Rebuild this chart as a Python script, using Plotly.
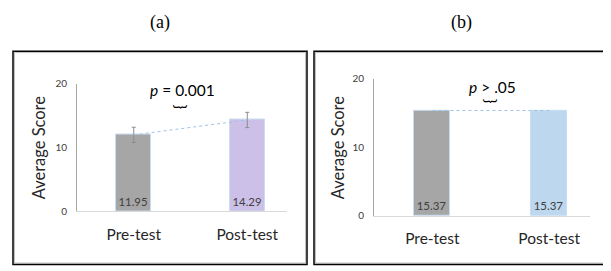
import plotly.graph_objects as go

W, H = 611, 271
OFF = 8  # default page body margin in the browser

categories = ["Pre-test", "Post-test"]
scores_a = [11.95, 14.29]
errors_a = [1.2, 1.2]
scores_b = [15.37, 15.37]
labels_a = ["11.95", "14.29"]
labels_b = ["15.37", "15.37"]
y_ticks = [0, 10, 20]
colors_a = ["#A6A6A6", "#CCC0E8"]
colors_b = ["#A6A6A6", "#BDD7EE"]


def fx(px):
    return (px - OFF) / W


def fy(py):
    return 1 - (py - OFF) / H


FONT = "Lato"
fig = go.Figure()

# panel (a)
fig.add_trace(go.Bar(
    x=categories, y=scores_a, xaxis="x", yaxis="y", width=0.31,
    marker=dict(color=colors_a, line=dict(color="#C9DDF0", width=1)),
    error_y=dict(type="data", array=errors_a, color="#8C8C8C", thickness=1, width=2),
    text=labels_a, textposition="inside", insidetextanchor="start", textangle=0,
    textfont=dict(family=FONT, size=11.5, color="#404040"), showlegend=False,
    cliponaxis=False,
))
fig.add_trace(go.Scatter(
    x=categories, y=scores_a, xaxis="x", yaxis="y", mode="lines",
    line=dict(color="#9DC3E6", width=1, dash="dot"), showlegend=False,
))

# panel (b)
fig.add_trace(go.Bar(
    x=categories, y=scores_b, xaxis="x2", yaxis="y2", width=0.31,
    marker=dict(color=colors_b, line=dict(color="#C9DDF0", width=1)),
    text=labels_b, textposition="inside", insidetextanchor="start", textangle=0,
    textfont=dict(family=FONT, size=11.5, color="#404040"), showlegend=False,
))
fig.add_trace(go.Scatter(
    x=categories, y=scores_b, xaxis="x2", yaxis="y2", mode="lines",
    line=dict(color="#9DC3E6", width=1, dash="dot"), showlegend=False,
))

xcommon = dict(type="category", range=[-0.5, 1.35], showgrid=False, zeroline=False,
               showline=True, linecolor="#D9D9D9", linewidth=1, ticks="",
               tickfont=dict(family=FONT, size=15.5, color="#262626"),
               ticklabelstandoff=9, fixedrange=True)
ycommon = dict(range=[0, 20], tickvals=y_ticks, showgrid=False, zeroline=False,
               showline=True, linecolor="#A6A6A6", linewidth=1, ticks="",
               tickfont=dict(family=FONT, size=10, color="#404040"),
               ticklabelstandoff=7, fixedrange=True)

fig.update_layout(
    width=W, height=H, margin=dict(l=0, r=0, t=0, b=0),
    paper_bgcolor="white", plot_bgcolor="white",
    bargap=0,
    xaxis=dict(domain=[fx(77), fx(287)], anchor="y", **xcommon),
    yaxis=dict(domain=[fy(214), fy(80)], anchor="x", **ycommon),
    xaxis2=dict(domain=[fx(374), fx(590)], anchor="y2", **xcommon),
    yaxis2=dict(domain=[fy(219), fy(75)], anchor="x2", **ycommon),
)

shapes = []
for (x0, x1) in [(13, 307), (314, 609)]:
    shapes.append(dict(type="rect", xref="paper", yref="paper",
                       x0=fx(x0 + 1.5), x1=fx(x1 - 1.5), y0=fy(270 - 1.5), y1=fy(46 + 1.5),
                       line=dict(color="#C0C0C0", width=1)))
    shapes.append(dict(type="rect", xref="paper", yref="paper",
                       x0=fx(x0), x1=fx(x1), y0=fy(270), y1=fy(46),
                       line=dict(color="black", width=1.5)))
fig.update_layout(shapes=shapes)


def note(text, px, py, size, family=FONT, angle=0, color="black"):
    return dict(text=text, x=fx(px), y=fy(py), xref="paper", yref="paper",
                xanchor="center", yanchor="middle", textangle=angle,
                showarrow=False, font=dict(family=family, size=size, color=color))


ann = [
    note("(a)", 160, 16, 18, family="Liberation Serif"),
    note("(b)", 461, 16, 18, family="Liberation Serif"),
    note("Average Score", 39, 147, 16.5, angle=-90, color="#262626"),
    note("Average Score", 338, 147, 16.5, angle=-90, color="#262626"),
    note("<i>p</i> = 0.001", 182, 87, 15.5),
    note("<i>p</i> > .05", 492, 84, 15.5),
    note("}", 182, 104, 16, angle=90),
    note("}", 491, 98, 16, angle=90),
]
fig.update_layout(annotations=ann)

fig.write_html("out.html")
